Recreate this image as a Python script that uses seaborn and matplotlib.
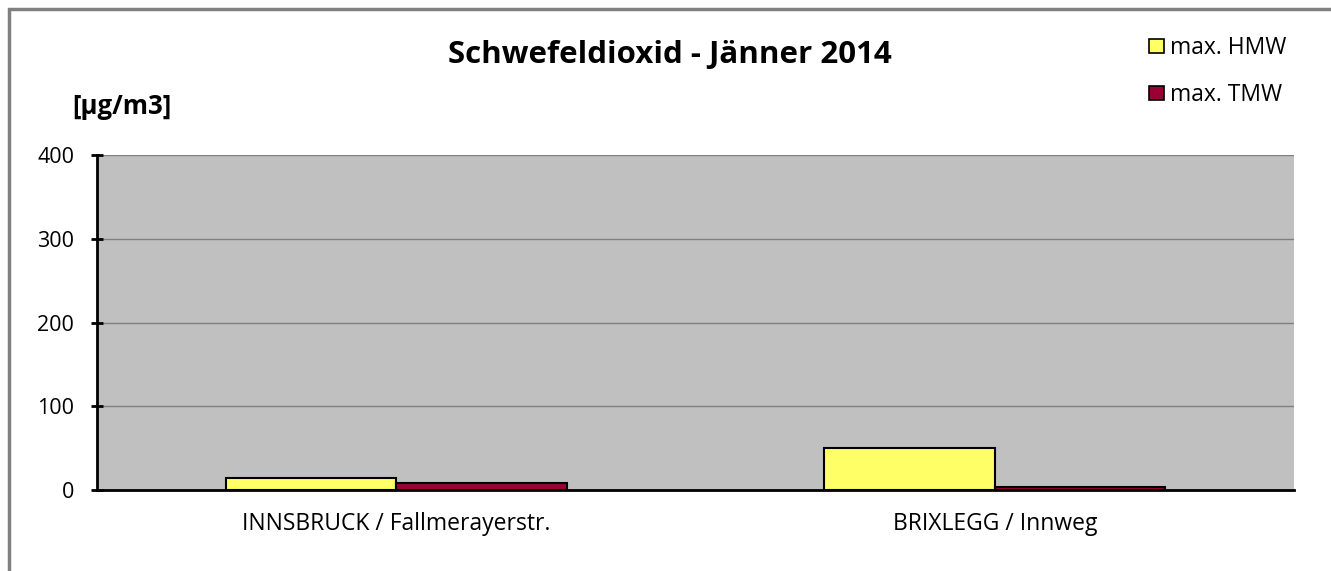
import matplotlib.pyplot as plt
import pandas as pd
import seaborn as sns
from matplotlib.patches import Rectangle

# data
stations = ['INNSBRUCK / Fallmerayerstr.', 'BRIXLEGG / Innweg']
series = ['max. HMW', 'max. TMW']
hmw = [14, 50]
tmw = [8, 4]
colors = ['#FFFF66', '#990033']

df = pd.DataFrame({
    'station': stations * 2,
    'series': [series[0]] * 2 + [series[1]] * 2,
    'value': hmw + tmw,
})

sns.set_style('white')
plt.rcParams['font.family'] = ['Open Sans', 'DejaVu Sans']
plt.rcParams['text.color'] = 'black'

fig = plt.figure(figsize=(13.31, 5.71), dpi=100)
ax = fig.add_axes([0.0729, 0.1419, 0.8993, 0.5866])
ax.set_facecolor('#C0C0C0')

sns.barplot(data=df, x='station', y='value', hue='series', palette=colors, saturation=1,
            width=0.57, edgecolor='black', linewidth=1.5, ax=ax, legend=False)

ax.set_xlim(-0.5, 1.5)
ax.set_ylim(0, 400)
ax.set_yticks([0, 100, 200, 300, 400])
ax.yaxis.grid(True, color='#808080', linewidth=1)
ax.set_axisbelow(True)
ax.set_xlabel('')
ax.set_ylabel('')

# category boundaries as x ticks
ax.set_xticks([-0.5, 0.5, 1.5])
ax.set_xticklabels([])
ax.tick_params(axis='x', direction='inout', length=16, width=2, color='black')
for i, s in enumerate(stations):
    ax.text(i, -0.065, s, transform=ax.get_xaxis_transform(), ha='center', va='top', fontsize=16.5)
ax.tick_params(axis='y', direction='inout', length=9, width=2, color='black',
               labelsize=15.5, labelcolor='black', left=True, pad=12)

for side in ['top', 'right']:
    ax.spines[side].set_visible(False)
for side in ['left', 'bottom']:
    ax.spines[side].set_color('black')
    ax.spines[side].set_linewidth(2)

fig.text(0.503, 1 - 55 / 571, 'Schwefeldioxid - Jänner 2014', ha='center', va='center',
         fontsize=22.5, fontweight='bold')
fig.text(0.054, 1 - 107 / 571, '[µg/m3]', ha='left', va='center', fontsize=18.5, fontweight='bold')

# legend
for j, (lab, c) in enumerate(zip(series, colors)):
    y = 1 - (46 + j * 47) / 571
    fig.patches.append(Rectangle((1149 / 1331, y - 7 / 571), 15 / 1331, 14 / 571,
                                 transform=fig.transFigure, facecolor=c,
                                 edgecolor='black', linewidth=1.2))
    fig.text(1170 / 1331, y - 2 / 571, lab, ha='left', va='center', fontsize=16.5)

# outer frame (only top and left edges inside the image)
fig.patches.append(Rectangle((9 / 1331, -0.05), 1.2, 1 - 9 / 571 + 0.05, transform=fig.transFigure,
                             fill=False, edgecolor='#808080', linewidth=2.5))

fig.savefig('out.png', dpi=100)
